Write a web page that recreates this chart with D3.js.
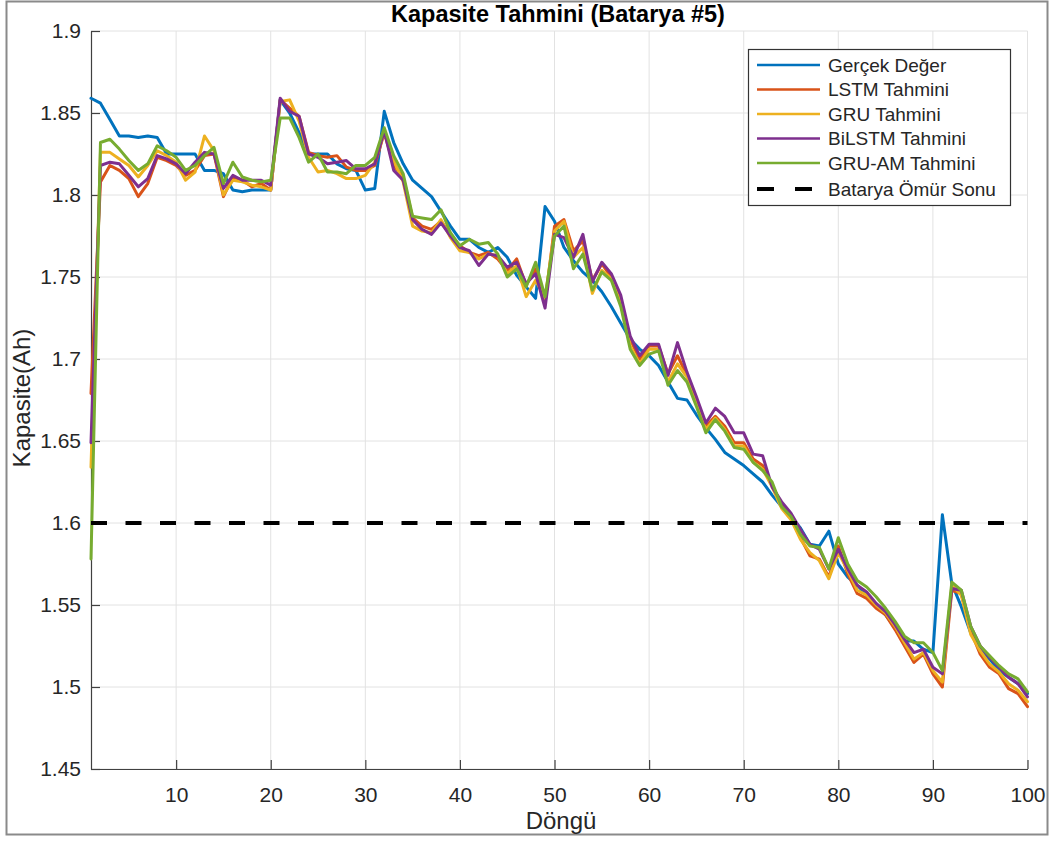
<!DOCTYPE html>
<html>
<head>
<meta charset="utf-8">
<script src="https://cdn.jsdelivr.net/npm/d3@7"></script>
<style>
  body { margin: 0; background: #fff; }
  svg text { font-family: "Liberation Sans", Arial, Helvetica, sans-serif; fill: #262626; }
</style>
</head>
<body>
<svg id="chart" width="1052" height="841"></svg>
<script>
// Döngü numaraları (1..100)
const cycles = d3.range(1, 101);

// Ölçülen kapasite (Ah)
const gercek = [
  1.859,1.856,1.846,1.836,1.836,1.835,1.836,1.835,1.825,1.825,
  1.825,1.825,1.815,1.815,1.813,1.803,1.802,1.803,1.803,1.803,
  1.858,1.850,1.838,1.825,1.825,1.825,1.819,1.816,1.815,1.803,
  1.804,1.851,1.832,1.819,1.809,1.804,1.799,1.790,1.781,1.773,
  1.773,1.768,1.765,1.768,1.762,1.751,1.744,1.737,1.793,1.784,
  1.768,1.760,1.753,1.748,1.741,1.732,1.722,1.712,1.706,1.702,
  1.696,1.686,1.676,1.675,1.666,1.658,1.651,1.643,1.639,1.635,
  1.630,1.625,1.617,1.610,1.604,1.597,1.587,1.586,1.595,1.575,
  1.567,1.562,1.556,1.550,1.544,1.536,1.528,1.528,1.523,1.521,
  1.605,1.563,1.549,1.533,1.523,1.517,1.510,1.506,1.502,1.496
];

// Model tahminleri
const lstm = [
  1.679,1.808,1.818,1.815,1.810,1.799,1.807,1.823,1.821,1.818,
  1.812,1.815,1.824,1.825,1.799,1.811,1.809,1.805,1.807,1.803,
  1.858,1.853,1.848,1.826,1.824,1.823,1.824,1.817,1.815,1.815,
  1.818,1.838,1.818,1.811,1.786,1.781,1.779,1.784,1.776,1.769,
  1.765,1.763,1.765,1.761,1.754,1.761,1.745,1.755,1.734,1.781,
  1.785,1.766,1.772,1.748,1.758,1.750,1.736,1.712,1.700,1.708,
  1.708,1.691,1.702,1.690,1.675,1.659,1.665,1.659,1.649,1.649,
  1.639,1.635,1.623,1.611,1.603,1.591,1.580,1.578,1.567,1.586,
  1.569,1.557,1.554,1.548,1.544,1.535,1.525,1.515,1.520,1.508,
  1.500,1.559,1.557,1.534,1.520,1.512,1.508,1.499,1.496,1.488
];

const gru = [
  1.634,1.826,1.826,1.822,1.818,1.811,1.818,1.827,1.824,1.820,
  1.809,1.814,1.836,1.827,1.800,1.809,1.808,1.806,1.805,1.803,
  1.857,1.858,1.845,1.823,1.814,1.815,1.813,1.810,1.810,1.812,
  1.820,1.838,1.821,1.808,1.781,1.778,1.777,1.785,1.774,1.766,
  1.765,1.761,1.764,1.763,1.752,1.757,1.738,1.748,1.737,1.778,
  1.784,1.762,1.768,1.740,1.754,1.749,1.734,1.708,1.697,1.706,
  1.706,1.686,1.697,1.689,1.673,1.657,1.664,1.657,1.647,1.647,
  1.637,1.633,1.622,1.609,1.602,1.590,1.582,1.577,1.566,1.582,
  1.571,1.559,1.556,1.550,1.545,1.537,1.527,1.517,1.521,1.510,
  1.503,1.562,1.556,1.532,1.522,1.514,1.509,1.502,1.498,1.491
];

const bilstm = [
  1.649,1.818,1.820,1.819,1.812,1.805,1.810,1.824,1.822,1.819,
  1.813,1.820,1.826,1.825,1.804,1.812,1.809,1.809,1.809,1.806,
  1.859,1.851,1.848,1.825,1.823,1.819,1.820,1.821,1.816,1.816,
  1.819,1.839,1.815,1.809,1.785,1.779,1.776,1.783,1.775,1.768,
  1.766,1.757,1.764,1.763,1.756,1.759,1.746,1.752,1.731,1.776,
  1.774,1.762,1.776,1.747,1.759,1.752,1.739,1.714,1.702,1.709,
  1.709,1.690,1.710,1.692,1.677,1.661,1.670,1.665,1.655,1.655,
  1.642,1.641,1.622,1.613,1.606,1.596,1.587,1.584,1.572,1.584,
  1.572,1.562,1.558,1.551,1.546,1.538,1.529,1.521,1.523,1.512,
  1.508,1.560,1.559,1.537,1.525,1.518,1.512,1.506,1.502,1.494
];

const gruAm = [
  1.578,1.832,1.834,1.828,1.821,1.815,1.819,1.830,1.827,1.823,
  1.815,1.818,1.824,1.829,1.807,1.820,1.811,1.809,1.808,1.809,
  1.847,1.847,1.835,1.820,1.825,1.814,1.814,1.813,1.818,1.818,
  1.823,1.841,1.824,1.813,1.787,1.786,1.785,1.791,1.777,1.769,
  1.773,1.770,1.771,1.764,1.750,1.755,1.744,1.759,1.738,1.775,
  1.781,1.755,1.764,1.742,1.753,1.748,1.732,1.706,1.696,1.703,
  1.705,1.684,1.693,1.686,1.671,1.655,1.663,1.656,1.646,1.645,
  1.637,1.632,1.625,1.610,1.604,1.593,1.586,1.585,1.572,1.591,
  1.575,1.565,1.561,1.555,1.548,1.540,1.531,1.527,1.527,1.521,
  1.510,1.564,1.559,1.537,1.525,1.519,1.513,1.508,1.505,1.497
];

// Ömür sonu eşiği
const eolThreshold = 1.6;

const seriesNames = ["Gerçek Değer", "LSTM Tahmini", "GRU Tahmini", "BiLSTM Tahmini", "GRU-AM Tahmini"];
const seriesColors = ["#0072BD", "#D95319", "#EDB120", "#7E2F8E", "#77AC30"];
const seriesValues = [gercek, lstm, gru, bilstm, gruAm];
const eolName = "Batarya Ömür Sonu";

const xTicks = [10, 20, 30, 40, 50, 60, 70, 80, 90, 100];
const yTicks = [1.45, 1.5, 1.55, 1.6, 1.65, 1.7, 1.75, 1.8, 1.85, 1.9];

(function draw() {
  const svg = d3.select("#chart");

  // outer figure frame
  svg.append("rect")
    .attr("x", 6.5).attr("y", 1.5).attr("width", 1041).attr("height", 833)
    .attr("fill", "#fff").attr("stroke", "#8a8a8a").attr("stroke-width", 2);

  const pL = 91, pR = 1027.5, pT = 31, pB = 769;
  const x = d3.scaleLinear().domain([1, 100]).range([pL, pR]);
  const y = d3.scaleLinear().domain([1.45, 1.9]).range([pB, pT]);

  // grid
  const grid = svg.append("g").attr("stroke", "#e2e2e2").attr("stroke-width", 1);
  grid.selectAll("line.v").data(xTicks).join("line").attr("class", "v")
    .attr("x1", d => x(d)).attr("x2", d => x(d)).attr("y1", pT).attr("y2", pB);
  grid.selectAll("line.h").data(yTicks).join("line").attr("class", "h")
    .attr("x1", pL).attr("x2", pR).attr("y1", d => y(d)).attr("y2", d => y(d));

  // axes (ticks pointing inward)
  const xAxis = d3.axisBottom(x).tickValues(xTicks).tickSizeInner(-9).tickSizeOuter(0).tickPadding(14);
  const yAxis = d3.axisLeft(y).tickValues(yTicks).tickFormat(d3.format("~g")).tickSizeInner(-9).tickSizeOuter(0).tickPadding(10);

  const gx = svg.append("g").attr("transform", `translate(0,${pB})`).call(xAxis);
  const gy = svg.append("g").attr("transform", `translate(${pL},0)`).call(yAxis);
  [gx, gy].forEach(g => {
    g.select(".domain").attr("stroke", "#404040").attr("stroke-width", 1.2);
    g.selectAll(".tick line").attr("stroke", "#404040").attr("stroke-width", 1.2);
    g.selectAll(".tick text").attr("font-size", 21).attr("fill", "#262626")
      .style("font-family", "'Liberation Sans', Arial, sans-serif");
  });
  gx.selectAll(".tick text").attr("dy", "0.9em");

  // data lines
  const line = d3.line().x((d, i) => x(cycles[i])).y(d => y(d));
  const lines = svg.append("g").attr("fill", "none").attr("stroke-width", 3)
    .attr("stroke-linejoin", "round").attr("stroke-linecap", "round");
  seriesValues.forEach((vals, k) => {
    lines.append("path").datum(vals).attr("d", line).attr("stroke", seriesColors[k]);
  });

  // end-of-life threshold
  svg.append("line")
    .attr("x1", x(1)).attr("x2", x(100)).attr("y1", y(eolThreshold)).attr("y2", y(eolThreshold))
    .attr("stroke", "#000").attr("stroke-width", 4).attr("stroke-dasharray", "16,18.5");

  // title & axis labels
  svg.append("text").attr("x", 558).attr("y", 22).attr("text-anchor", "middle")
    .attr("font-size", 23.5).attr("font-weight", "bold").style("fill", "#000")
    .text("Kapasite Tahmini (Batarya #5)");
  svg.append("text").attr("x", 561).attr("y", 829).attr("text-anchor", "middle")
    .attr("font-size", 24).text("Döngü");
  svg.append("text").attr("transform", "translate(30,398) rotate(-90)").attr("text-anchor", "middle")
    .attr("font-size", 24).text("Kapasite(Ah)");

  // legend
  const lg = svg.append("g");
  lg.append("rect").attr("x", 748.5).attr("y", 49.5).attr("width", 262).attr("height", 156)
    .attr("fill", "#fff").attr("stroke", "#333").attr("stroke-width", 1.2);
  const rowY = [65, 89.5, 114, 138.5, 163, 189];
  seriesNames.forEach((name, k) => {
    lg.append("line").attr("x1", 757).attr("x2", 820).attr("y1", rowY[k]).attr("y2", rowY[k])
      .attr("stroke", seriesColors[k]).attr("stroke-width", 2.4);
    lg.append("text").attr("x", 828).attr("y", rowY[k]).attr("dy", "0.35em")
      .attr("font-size", 19).text(name);
  });
  lg.append("line").attr("x1", 757).attr("x2", 816).attr("y1", rowY[5]).attr("y2", rowY[5])
    .attr("stroke", "#000").attr("stroke-width", 4).attr("stroke-dasharray", "17,21");
  lg.append("text").attr("x", 828).attr("y", rowY[5]).attr("dy", "0.35em")
    .attr("font-size", 19).text(eolName);
})();
</script>
</body>
</html>
